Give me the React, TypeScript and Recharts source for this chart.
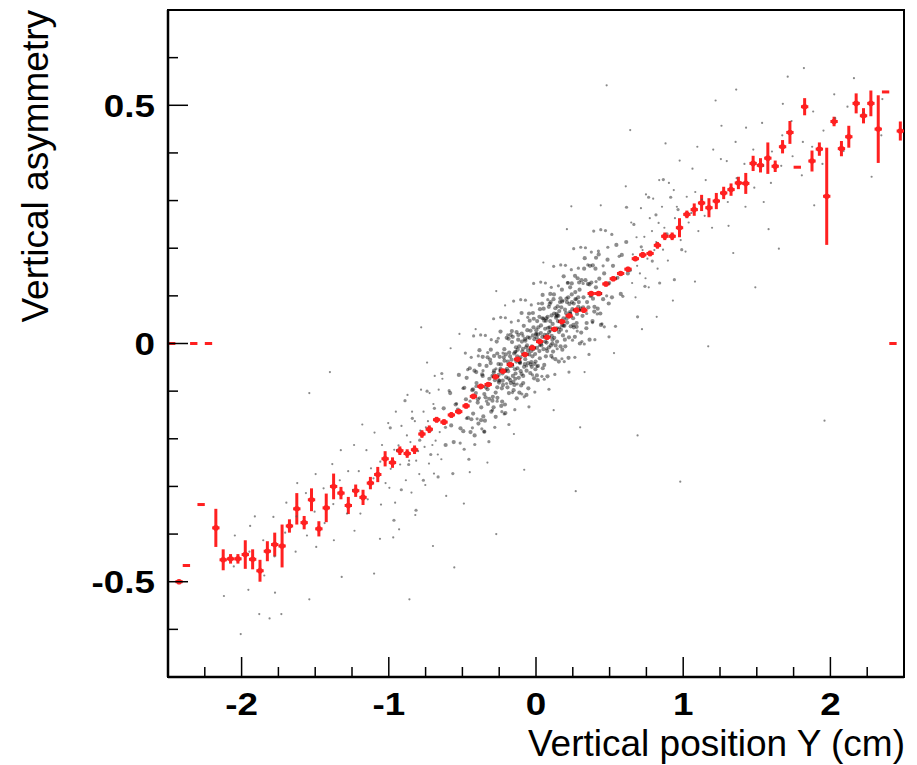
import { ScatterChart, Scatter, XAxis, YAxis, ErrorBar, ReferenceArea } from 'recharts'

const fontFamily = '"Liberation Sans", Arial, Helvetica, sans-serif'
const red = '#ff2020'

// profile: bin centres (0.05 wide), mean asymmetry and its error
const binCenters = [
  -2.475, -2.425, -2.375, -2.325, -2.275, -2.225, -2.175, -2.125, -2.075, -2.025,
  -1.975, -1.925, -1.875, -1.825, -1.775, -1.725, -1.675, -1.625, -1.575, -1.525,
  -1.475, -1.425, -1.375, -1.325, -1.275, -1.225, -1.175, -1.125, -1.075, -1.025,
  -0.975, -0.925, -0.875, -0.825, -0.775, -0.725, -0.675, -0.625, -0.575, -0.525,
  -0.475, -0.425, -0.375, -0.325, -0.275, -0.225, -0.175, -0.125, -0.075, -0.025,
  0.025, 0.075, 0.125, 0.175, 0.225, 0.275, 0.325, 0.375, 0.425, 0.475,
  0.525, 0.575, 0.625, 0.675, 0.725, 0.775, 0.825, 0.875, 0.925, 0.975,
  1.025, 1.075, 1.125, 1.175, 1.225, 1.275, 1.325, 1.375, 1.425, 1.475,
  1.525, 1.575, 1.625, 1.675, 1.725, 1.775, 1.825, 1.875, 1.925, 1.975,
  2.025, 2.075, 2.125, 2.175, 2.225, 2.275, 2.325, 2.375, 2.425, 2.475
]
const binHalfWidth = 0.025

const profileMean = [
  0, -0.5, -0.466, 0, -0.338, 0, -0.387, -0.454, -0.452, -0.452,
  -0.443, -0.453, -0.477, -0.436, -0.422, -0.425, -0.383, -0.347, -0.376, -0.328,
  -0.389, -0.345, -0.3, -0.314, -0.34, -0.309, -0.323, -0.293, -0.275, -0.242,
  -0.25, -0.225, -0.231, -0.223, -0.19, -0.18, -0.16, -0.165, -0.15, -0.143,
  -0.131, -0.111, -0.09, -0.086, -0.07, -0.058, -0.044, -0.033, -0.023, -0.009,
  0.004, 0.013, 0.03, 0.046, 0.058, 0.07, 0.07, 0.105, 0.105, 0.125,
  0.136, 0.147, 0.156, 0.178, 0.186, 0.189, 0.206, 0.225, 0.225, 0.243,
  0.271, 0.281, 0.295, 0.285, 0.299, 0.316, 0.323, 0.337, 0.336, 0.378,
  0.374, 0.389, 0.372, 0.413, 0.443, 0.37, 0.497, 0.383, 0.408, 0.309,
  0.466, 0.409, 0.434, 0.504, 0.478, 0.504, 0.45, 0.528, 0, 0.446
]

const profileError = [
  0, 0.004, 0, 0, 0, 0, 0.04, 0.022, 0.01, 0.01,
  0.03, 0.021, 0.023, 0.021, 0.025, 0.045, 0.014, 0.033, 0.014, 0.024,
  0.016, 0.03, 0.027, 0.013, 0.018, 0.013, 0.016, 0.013, 0.016, 0.016,
  0.011, 0.009, 0.009, 0.009, 0.008, 0.008, 0.006, 0.006, 0.006, 0.005,
  0.005, 0.005, 0.004, 0.004, 0.004, 0.004, 0.004, 0.004, 0.004, 0.004,
  0.004, 0.004, 0.004, 0.004, 0.004, 0.004, 0.004, 0.004, 0.004, 0.005,
  0.005, 0.005, 0.005, 0.005, 0.006, 0.006, 0.007, 0.008, 0.008, 0.02,
  0.008, 0.013, 0.017, 0.02, 0.017, 0.013, 0.013, 0.013, 0.022, 0.016,
  0.015, 0.033, 0.012, 0.014, 0.024, 0, 0.018, 0.022, 0.014, 0.102,
  0.01, 0.016, 0.023, 0.021, 0.016, 0.027, 0.071, 0, 0, 0.02
]

type Pt = [number, number]

// event cloud, dense part around the origin
const coreDots: Pt[] = [
  [-0.627,-0.136],[-0.614,-0.213],[-0.583,-0.104],[-0.576,-0.172],[-0.559,-0.207],[-0.546,-0.128],
  [-0.524,-0.066],[-0.513,-0.178],[-0.531,-0.139],[-0.494,-0.184],[-0.487,-0.093],[-0.476,-0.117],
  [-0.462,-0.156],[-0.471,-0.072],[-0.445,-0.186],[-0.433,-0.098],[-0.418,-0.057],[-0.427,-0.147],
  [-0.409,-0.104],[-0.396,-0.124],[-0.404,-0.083],[-0.391,-0.168],[-0.383,-0.045],[-0.372,-0.134],
  [-0.377,-0.092],[-0.358,-0.153],[-0.366,-0.065],[-0.351,-0.106],[-0.362,-0.028],[-0.343,-0.113],
  [-0.336,-0.047],[-0.347,-0.162],[-0.317,-0.074],[-0.326,-0.127],[-0.312,-0.034],[-0.329,-0.096],
  [-0.304,-0.143],[-0.296,-0.068],[-0.308,-0.041],[-0.293,-0.112],[-0.285,-0.026],[-0.274,-0.103],
  [-0.279,-0.077],[-0.288,-0.134],[-0.262,-0.114],[-0.255,-0.043],[-0.267,0.004],[-0.251,-0.082],
  [-0.243,-0.057],[-0.236,-0.131],[-0.247,-0.028],[-0.232,-0.094],[-0.241,-0.053],[-0.224,-0.087],
  [-0.215,-0.012],[-0.228,-0.063],[-0.211,-0.128],[-0.205,-0.023],[-0.194,-0.092],[-0.199,0.012],
  [-0.208,-0.057],[-0.191,-0.038],[-0.184,-0.104],[-0.176,-0.027],[-0.187,-0.073],[-0.172,0.018],
  [-0.179,-0.046],[-0.163,0.003],[-0.157,-0.068],[-0.166,-0.034],[-0.152,-0.098],[-0.158,0.014],
  [-0.143,-0.054],[-0.136,-0.008],[-0.147,-0.087],[-0.132,0.024],[-0.139,-0.063],[-0.124,-0.013],
  [-0.117,-0.072],[-0.128,-0.027],[-0.113,-0.103],[-0.121,0.008],[-0.104,-0.058],[-0.097,0.021],
  [-0.108,-0.041],[-0.093,-0.017],[-0.101,-0.088],[-0.096,0.004],[-0.083,0.037],[-0.076,-0.043],
  [-0.087,-0.068],[-0.072,0.006],[-0.079,-0.024],[-0.064,-0.057],[-0.056,0.013],[-0.067,-0.008],
  [-0.052,-0.094],[-0.059,0.028],[-0.043,0.012],[-0.036,-0.044],[-0.047,0.063],[-0.032,-0.016],
  [-0.039,-0.062],[-0.024,-0.027],[-0.017,0.034],[-0.028,-0.006],[-0.013,-0.073],[-0.021,0.017],
  [-0.015,0.052],[0.004,0.013],[-0.003,-0.038],[0.008,0.047],[-0.006,-0.022],[0.002,0.028],
  [0.006,-0.067],[0.023,-0.016],[0.016,0.034],[0.027,0.072],[0.013,-0.047],[0.021,0.007],
  [0.044,0.053],[0.037,-0.004],[0.046,-0.052],[0.033,0.022],[0.041,0.084],[0.063,0.004],
  [0.056,0.048],[0.067,-0.027],[0.052,0.073],[0.059,0.018],[0.083,0.033],[0.076,-0.016],
  [0.087,0.077],[0.072,0.002],[0.079,0.056],[0.104,-0.026],[0.096,0.047],[0.107,0.016],
  [0.093,0.083],[0.101,-0.004],[0.097,0.104],[0.123,0.063],[0.116,-0.017],[0.127,0.028],
  [0.112,0.008],[0.119,0.093],[0.143,0.004],[0.136,0.054],[0.147,0.078],[0.132,-0.033],
  [0.139,0.062],[0.163,0.087],[0.156,0.024],[0.167,-0.006],[0.152,0.058],[0.183,0.017],
  [0.176,0.113],[0.187,0.053],[0.172,0.076],[0.179,-0.013],[0.204,0.064],[0.196,0.008],
  [0.207,0.094],[0.193,0.037],[0.224,0.013],[0.216,0.127],[0.227,0.083],[0.212,0.044],
  [0.243,0.103],[0.236,0.036],[0.247,0.072],[0.232,0.118],[0.264,0.014],[0.256,0.084],
  [0.267,0.108],[0.252,0.053],[0.283,0.137],[0.276,0.043],[0.287,0.077],[0.304,0.073],
  [0.296,0.113],[0.307,0.023],[0.293,0.128],[0.323,0.097],[0.316,0.058],[0.327,0.157],
  [0.344,0.043],[0.336,0.133],[0.347,0.087],[0.363,0.124],[0.356,0.076],[0.367,0.163],
  [0.384,0.047],[0.376,0.128],[0.387,0.094],[0.404,0.157],[0.396,0.067],[0.407,0.118],
  [0.433,0.104],[0.426,0.187],[0.437,0.063],[0.463,0.147],[0.456,0.093],[0.494,0.084],
  [0.486,0.176],[0.497,0.127],[0.523,0.163],[0.516,0.097],[0.553,0.138],[0.546,0.207],
  [0.583,0.186],[0.576,0.104],[0.624,0.147],[0.613,0.213],
  [-0.287,-0.061],[-0.263,-0.092],[-0.254,-0.066],[-0.238,-0.044],[-0.226,-0.078],[-0.214,-0.036],
  [-0.203,-0.071],[-0.189,-0.058],[-0.182,-0.019],[-0.171,-0.083],[-0.161,-0.047],[-0.149,-0.021],
  [-0.141,-0.074],[-0.133,-0.038],[-0.126,-0.052],[-0.114,-0.006],[-0.106,-0.029],[-0.098,-0.064],
  [-0.089,-0.011],[-0.081,-0.049],[-0.073,-0.033],[-0.061,-0.004],[-0.054,-0.041],[-0.046,-0.023],
  [-0.037,0.027],[-0.029,-0.049],[-0.018,-0.012],[-0.011,0.009],[-0.004,-0.054],[0.007,-0.009],
  [0.014,0.019],[0.026,-0.031],[0.034,0.038],[0.043,0.014],[0.051,-0.012],[0.062,0.031],
  [0.069,0.053],[0.077,0.018],[0.088,-0.008],[0.094,0.034],[0.106,0.059],[0.113,0.041],
  [0.124,0.012],[0.131,0.074],[0.142,0.032],[0.149,0.047],[0.158,0.068],[0.169,0.029],
  [0.177,0.088],[0.186,0.038],[0.197,0.071],[0.208,0.052],[0.219,0.097],[0.231,0.066],
  [0.244,0.087],[0.257,0.034],[0.268,0.093],[0.279,0.062],[0.291,0.087],
  [-0.45,-0.052],[-0.439,-0.159],[-0.428,-0.096],[-0.417,-0.193],[-0.406,-0.06],[-0.395,-0.117],
  [-0.384,-0.014],[-0.373,-0.161],[-0.362,-0.068],[-0.351,-0.185],[-0.34,-0.092],[-0.329,-0.029],
  [-0.318,-0.116],[-0.307,-0.013],[-0.296,-0.12],[-0.285,-0.057],[-0.274,-0.154],[-0.263,-0.021],
  [-0.252,-0.078],[-0.241,0.025],[-0.23,-0.122],[-0.219,-0.029],[-0.208,-0.146],[-0.197,-0.053],
  [-0.186,0.01],[-0.175,-0.077],[-0.164,0.026],[-0.153,-0.081],[-0.142,-0.018],[-0.131,-0.115],
  [-0.12,0.018],[-0.109,-0.039],[-0.098,0.064],[-0.087,-0.083],[-0.076,0.009],[-0.065,-0.108],
  [-0.054,-0.015],[-0.043,0.048],[-0.032,-0.039],[-0.021,0.064],[-0.01,-0.043],[0.001,0.02],
  [0.012,-0.077],[0.023,0.056],[0.034,-0.001],[0.045,0.102],[0.056,-0.045],[0.067,0.048],
  [0.078,-0.069],[0.089,0.024],[0.1,0.087],[0.111,0],[0.122,0.103],[0.133,-0.004],
  [0.144,0.059],[0.155,-0.038],[0.166,0.095],[0.177,0.038],[0.188,0.141],[0.199,-0.006],
  [0.21,0.087],[0.221,-0.03],[0.232,0.063],[0.243,0.126],[0.254,0.039],[0.265,0.142],
  [0.276,0.035],[0.287,0.097],[0.298,0],[0.309,0.133],[0.32,0.076],[0.331,0.179],
  [0.342,0.032],[0.353,0.125],[0.364,0.008],[0.375,0.101],[0.386,0.164],[0.397,0.077],
  [0.408,0.18],[0.419,0.073],[0.43,0.136],[0.441,0.039]
]

// wider spread of the cloud between -1 and 1
const midDots: Pt[] = [
  [-0.99,-0.177],[-0.965,-0.371],[-0.94,-0.224],[-0.915,-0.307],[-0.89,-0.12],[-0.865,-0.254],
  [-0.84,-0.157],[-0.815,-0.35],[-0.79,-0.203],[-0.765,-0.287],[-0.74,-0.1],[-0.715,-0.233],
  [-0.69,-0.136],[-0.665,-0.28],[-0.64,-0.063],[-0.615,-0.176],[-0.59,-0.099],[-0.565,-0.273],
  [-0.54,-0.126],[-0.515,-0.209],
  [-0.496,-0.094],[-0.488,-0.222],[-0.48,-0.02],[-0.472,-0.157],[-0.464,-0.055],[-0.456,-0.243],
  [-0.448,-0.121],[-0.44,-0.029],[-0.432,-0.177],[-0.424,0.016],[-0.416,-0.212],[-0.408,-0.09],
  [-0.4,-0.158],[-0.392,-0.026],[-0.384,-0.114],[-0.376,0.018],[-0.368,-0.179],[-0.36,-0.057],
  [-0.352,-0.185],[-0.344,0.017],[-0.336,-0.121],[-0.328,-0.019],[-0.32,-0.206],[-0.312,-0.084],
  [-0.304,0.008],[-0.296,-0.14],[-0.288,0.052],[-0.28,-0.176],[-0.272,-0.053],[-0.264,-0.121],
  [-0.256,0.011],[-0.248,-0.077],[-0.24,0.055],[-0.232,-0.143],[-0.224,-0.02],[-0.216,-0.148],
  [-0.208,0.054],[-0.2,-0.084],[-0.192,0.018],[-0.184,-0.17],[-0.176,-0.048],[-0.168,0.045],
  [-0.16,-0.103],[-0.152,0.089],[-0.144,-0.139],[-0.136,-0.017],[-0.128,-0.085],[-0.12,0.048],
  [-0.112,-0.04],[-0.104,0.092],[-0.096,-0.106],[-0.088,0.016],[-0.08,-0.112],[-0.072,0.091],
  [-0.064,-0.047],[-0.056,0.055],[-0.048,-0.133],[-0.04,-0.011],[-0.032,0.081],[-0.024,-0.066],
  [-0.016,0.126],[-0.008,-0.102],[0,0.02],[0.008,-0.048],[0.016,0.084],[0.024,-0.004],
  [0.032,0.129],[0.04,-0.069],[0.048,0.053],[0.056,-0.075],[0.064,0.127],[0.072,-0.011],
  [0.08,0.092],[0.088,-0.096],[0.096,0.026],[0.104,0.118],[0.112,-0.03],[0.12,0.162],
  [0.128,-0.065],[0.136,0.057],[0.144,-0.011],[0.152,0.121],[0.16,0.033],[0.168,0.165],
  [0.176,-0.032],[0.184,0.09],[0.192,-0.038],[0.2,0.164],[0.208,0.026],[0.216,0.128],
  [0.224,-0.06],[0.232,0.063],[0.24,0.155],[0.248,0.007],[0.256,0.199],[0.264,-0.029],
  [0.272,0.093],[0.28,0.026],[0.288,0.158],[0.296,0.07],[0.304,0.202],[0.312,0.004],
  [0.32,0.126],[0.328,-0.001],[0.336,0.201],[0.344,0.063],[0.352,0.165],[0.36,-0.023],
  [0.368,0.099],[0.376,0.192],[0.384,0.044],[0.392,0.236],[0.4,0.008],[0.408,0.13],
  [0.416,0.062],[0.424,0.194],[0.432,0.107],[0.44,0.239],[0.448,0.041],[0.456,0.163],
  [0.464,0.035],[0.472,0.237],[0.48,0.1],[0.488,0.202],[0.496,0.014],
  [0.515,0.229],[0.54,0.036],[0.565,0.183],[0.59,0.099],[0.615,0.286],[0.64,0.153],
  [0.665,0.25],[0.69,0.056],[0.715,0.203],[0.74,0.12],[0.765,0.307],[0.79,0.173],
  [0.815,0.27],[0.84,0.127],[0.865,0.344],[0.89,0.23],[0.915,0.307],[0.94,0.134],
  [0.965,0.281],[0.99,0.197]
]

// thinner part of the cloud and the stray events
const outerDots: Pt[] = [
  [-1.204,-0.268],[-1.193,-0.357],[-1.152,-0.224],[-1.143,-0.327],[-1.104,-0.283],[-1.097,-0.187],
  [-1.053,-0.338],[-1.046,-0.213],[-1.058,-0.248],[-1.004,-0.167],[-0.996,-0.303],[-0.963,-0.223],
  [-0.957,-0.334],[-0.952,-0.143],[-0.923,-0.254],[-0.914,-0.173],[-0.884,-0.287],[-0.877,-0.193],
  [-0.873,-0.108],[-0.853,-0.207],[-0.846,-0.313],[-0.842,-0.143],[-0.823,-0.163],[-0.814,-0.246],
  [-0.793,-0.274],[-0.786,-0.183],[-0.781,-0.097],[-0.764,-0.143],[-0.757,-0.217],[-0.752,-0.297],
  [-0.734,-0.163],[-0.727,-0.252],[-0.723,-0.104],[-0.704,-0.213],[-0.697,-0.127],[-0.693,-0.273],
  [-0.688,-0.068],[-0.673,-0.157],[-0.667,-0.233],[-0.661,-0.097],[-0.643,-0.243],[-0.636,-0.074],
  [-0.712,-0.183],[-0.654,-0.186],[-0.682,-0.204],[-0.748,-0.176],[-0.801,-0.226],[-0.862,-0.246],
  [-0.934,-0.214],[-0.987,-0.263],[-1.022,-0.293],[-1.121,-0.262],
  [0.653,0.127],[0.647,0.254],[0.658,0.187],[0.683,0.223],[0.676,0.097],[0.687,0.163],
  [0.713,0.284],[0.706,0.147],[0.744,0.137],[0.736,0.224],[0.747,0.313],[0.773,0.263],
  [0.766,0.118],[0.804,0.196],[0.796,0.304],[0.833,0.253],[0.826,0.157],[0.837,0.343],
  [0.863,0.197],[0.856,0.287],[0.903,0.337],[0.896,0.174],[0.944,0.263],[0.936,0.322],
  [0.983,0.217],[0.976,0.384],[1.024,0.308],[1.016,0.193],[1.063,0.367],[1.056,0.274],
  [1.103,0.236],[1.096,0.413],[1.153,0.343],[1.146,0.268],[1.204,0.407],[1.196,0.243],
  [1.263,0.314],[1.256,0.387],[0.724,0.196],[0.757,0.178],[0.788,0.236],[0.817,0.213],
  [0.872,0.243],[0.918,0.226],[0.957,0.287],[1.037,0.254],[1.082,0.318],[1.127,0.302],
  [-2.053,-0.468],[-2.046,-0.403],[-1.954,-0.517],[-1.947,-0.437],[-1.942,-0.383],[-1.853,-0.413],
  [-1.846,-0.487],[-1.784,-0.364],[-1.776,-0.447],[-1.773,-0.523],[-1.704,-0.397],[-1.696,-0.334],
  [-1.633,-0.437],[-1.626,-0.363],[-1.622,-0.293],[-1.563,-0.314],[-1.556,-0.403],[-1.504,-0.353],
  [-1.497,-0.274],[-1.493,-0.427],[-1.443,-0.304],[-1.436,-0.377],[-1.384,-0.253],[-1.377,-0.337],
  [-1.373,-0.413],[-1.333,-0.287],[-1.326,-0.224],[-1.284,-0.357],[-1.276,-0.268],[-1.243,-0.307],
  [-1.236,-0.213],[-1.233,-0.393],
  [1.303,0.297],[1.296,0.383],[1.308,0.247],[1.363,0.347],[1.356,0.423],[1.423,0.287],
  [1.416,0.377],[1.427,0.453],[1.483,0.327],[1.476,0.407],[1.543,0.373],[1.536,0.463],
  [1.547,0.297],[1.603,0.403],[1.596,0.337],[1.673,0.437],[1.666,0.373],[1.677,0.503],
  [1.743,0.393],[1.736,0.467],[1.813,0.423],[1.806,0.353],[1.883,0.487],[1.876,0.413],
  [1.953,0.447],[1.946,0.377],[2.033,0.473],[2.026,0.523],[2.123,0.433],[2.116,0.497],
  [2.223,0.483],[2.353,0.513],[2.346,0.437],
  [-2.006,-0.61],[-1.81,-0.577],[-1.73,-0.568],[-1.88,-0.568],[-2.12,-0.53],[-1.91,-0.363],
  [-1.54,-0.537],[-1.32,-0.49],[-1.1,-0.483],[-0.86,-0.537],[-0.97,-0.407],[-0.7,-0.425],
  [-0.555,-0.47],[-0.49,-0.336],[-0.27,-0.4],[-0.08,-0.265],[0.27,-0.31],[0.3,-0.176],
  [-1.4,-0.06],[-1.54,-0.104],[-0.78,0.034],[-0.52,0.02],[0.48,0.542],[1.36,0.533],
  [1.82,0.578],[2.16,0.557],[0.69,-0.193],[0.98,-0.29],[1.96,-0.162],[1.17,-0.006],
  [1.49,0.118],[1.65,0.199],[1.26,0.457],[0.64,0.448],[0.24,0.288],[-0.27,0.11],
  [0.82,0.056],[2.28,0.35],[2.09,0.404],
  [-1.18,-0.17],[-1.06,-0.41],[-0.93,-0.39],[-0.82,-0.36],[-0.74,-0.04],[-0.61,-0.32],
  [-0.58,-0.01],[-0.45,-0.27],[-0.41,0.03],[-0.33,-0.25],[-0.21,0.08],[-0.15,-0.19],
  [0.05,0.17],[0.12,-0.14],[0.21,0.24],[0.33,-0.06],[0.44,0.29],[0.53,-0.02],
  [0.61,0.33],[0.72,0.03],[0.88,0.42],[0.93,0.09],[1.08,0.13],[1.22,0.51],
  [1.34,0.19],[1.58,0.24],[1.71,0.56],[1.89,0.29]
]

const xTicks = [-2.25, -2, -1.75, -1.5, -1.25, -1, -0.75, -0.5, -0.25, 0, 0.25, 0.5, 0.75, 1, 1.25, 1.5, 1.75, 2, 2.25]
const yTicks = [-0.6, -0.5, -0.4, -0.3, -0.2, -0.1, 0, 0.1, 0.2, 0.3, 0.4, 0.5, 0.6]

const profile = binCenters.map((x, i) => ({
  x,
  y: profileMean[i],
  ey: profileError[i],
  ex: binHalfWidth
}))
const core = coreDots.map(([x, y]) => ({ x, y }))
const mid = midDots.map(([x, y]) => ({ x, y }))
const outer = outerDots.map(([x, y]) => ({ x, y }))

const XTick = ({ x, y, payload }: any) => {
  const v = payload.value
  const major = Math.abs(v - Math.round(v)) < 1e-6
  return (
    <g>
      <line x1={x} x2={x} y1={y} y2={y - (major ? 20 : 10)} stroke="#000" strokeWidth={1.5} />
      {major && (
        <text
          transform={`translate(${x},${y + 38}) scale(1.15,1)`}
          textAnchor="middle"
          fontFamily={fontFamily}
          fontWeight="bold"
          fontSize={32}
          fill="#000"
        >
          {v}
        </text>
      )}
    </g>
  )
}

const YTick = ({ x, y, payload }: any) => {
  const v = payload.value
  const major = Math.abs(v * 2 - Math.round(v * 2)) < 1e-6
  return (
    <g>
      <line x1={x} x2={x + (major ? 20 : 10)} y1={y} y2={y} stroke="#000" strokeWidth={1.5} />
      {major && (
        <text
          transform={`translate(${x - 13},${y}) scale(1.15,1)`}
          dy="0.36em"
          textAnchor="end"
          fontFamily={fontFamily}
          fontWeight="bold"
          fontSize={32}
          fill="#000"
        >
          {v}
        </text>
      )}
    </g>
  )
}

const ProfileMarker = (props: any) => {
  const { cx, cy, payload } = props
  if (!payload || payload.ey === 0) return <g />
  return <circle cx={cx} cy={cy} r={2.8} fill={red} />
}

const CoreDot = (props: any) => <circle cx={props.cx} cy={props.cy} r={2.1} fill="#000" fillOpacity={0.45} />
const MidDot = (props: any) => <circle cx={props.cx} cy={props.cy} r={1.6} fill="#222" fillOpacity={0.5} />
const OuterDot = (props: any) => <circle cx={props.cx} cy={props.cy} r={1.1} fill="#555" fillOpacity={0.7} />

const App = () => {
  return (
    <div style={{ width: 909, height: 757 }}>
      <ScatterChart width={909} height={757} margin={{ top: 2, right: 13, bottom: 0, left: 0 }}>
        <XAxis
          type="number"
          dataKey="x"
          domain={[-2.5, 2.5]}
          ticks={xTicks}
          interval={0}
          allowDataOverflow
          height={88}
          tickSize={0}
          tickMargin={0}
          tickLine={false}
          axisLine={{ stroke: '#000', strokeWidth: 2.5 }}
          tick={<XTick />}
          label={{
            content: () => (
              <text x={897} y={748} textAnchor="end" fontFamily={fontFamily} fontSize={37} fill="#000">
                Vertical position Y (cm)
              </text>
            )
          }}
        />
        <YAxis
          type="number"
          dataKey="y"
          domain={[-0.7, 0.7]}
          ticks={yTicks}
          interval={0}
          allowDataOverflow
          width={160}
          tickSize={0}
          tickMargin={0}
          tickLine={false}
          axisLine={{ stroke: '#000', strokeWidth: 2.5 }}
          tick={<YTick />}
          label={{
            content: () => (
              <text x={40} y={2} transform="rotate(-90, 40, 2)" textAnchor="end" fontFamily={fontFamily} fontSize={37} fill="#000">
                Vertical asymmetry
              </text>
            )
          }}
        />
        <ReferenceArea x1={-2.5} x2={2.5} y1={-0.7} y2={0.7} fill="none" stroke="#000" strokeWidth={2} />
        <Scatter data={outer} shape={OuterDot} isAnimationActive={false} />
        <Scatter data={mid} shape={MidDot} isAnimationActive={false} />
        <Scatter data={core} shape={CoreDot} isAnimationActive={false} />
        <Scatter data={profile} shape={ProfileMarker} isAnimationActive={false}>
          <ErrorBar dataKey="ey" direction="y" width={0} stroke={red} strokeWidth={3} isAnimationActive={false} />
          <ErrorBar dataKey="ex" direction="x" width={0} stroke={red} strokeWidth={3} isAnimationActive={false} />
        </Scatter>
      </ScatterChart>
    </div>
  )
}

export default App
